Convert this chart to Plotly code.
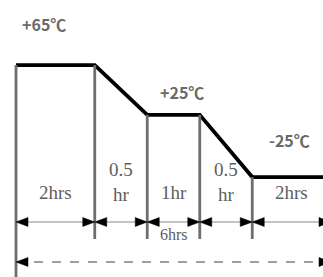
import numpy as np
import plotly.graph_objects as go

# ---- data ----
durations = [2, 0.5, 1, 0.5, 2]                      # hours per phase
duration_labels = ["2hrs", "0.5<br>hr", "1hr", "0.5<br>hr", "2hrs"]
phase_start_temp = [65, 65, 25, 25, -25]             # deg C
phase_end_temp = [65, 25, 25, -25, -25]
temp_levels = [65, 25, -25]
temp_labels = ["+65℃", "+25℃", "-25℃"]
total_label = "6hrs"

# ---- schematic layout (pixels) ----
W, H = 323, 277
X0, UNIT = 16, 52.5           # px of time origin, px per schematic unit
TA, TB = 145.96, 1.244        # px = TA - TB*T
widths = [max(1.0, 0.75 * d) for d in durations]   # schematic (not to scale)
bounds = np.concatenate([[0], np.cumsum(widths)])

def ux(px):
    return (px - X0) / UNIT

def ty(py):
    return (TA - py) / TB

xr = [ux(0), ux(W)]
yr = [ty(H), ty(0)]

fig = go.Figure()

shapes = []
GRAY = "#6e6e6e"
bound_temp = [phase_start_temp[0]] + phase_end_temp
for i in range(len(bounds) - 1):
    bottom = ty(H + 2) if i == 0 else ty(239)
    shapes.append(dict(type="line", xref="x", yref="y", x0=bounds[i], x1=bounds[i],
                       y0=bound_temp[i], y1=bottom, line=dict(color=GRAY, width=2.8)))

y_dim = ty(222)
shapes.append(dict(type="line", xref="x", yref="y", x0=bounds[0], x1=bounds[-1],
                   y0=y_dim, y1=y_dim, line=dict(color="#8a8a8a", width=1.2)))
y_tot = ty(262)
shapes.append(dict(type="line", xref="x", yref="y", x0=bounds[0], x1=bounds[-1],
                   y0=y_tot, y1=y_tot, line=dict(color="#808080", width=1.6, dash="dash")))

def head(xtip, y, direction, L=12, h=4.5):
    xb = xtip - direction * L / UNIT
    yu = y + h / TB
    yd = y - h / TB
    return dict(type="path", xref="x", yref="y",
                path=f"M {xtip} {y} L {xb} {yu} L {xb} {yd} Z",
                fillcolor="black", line=dict(color="black", width=0.5))

for i in range(len(bounds)):
    if i < len(bounds) - 1:
        shapes.append(head(bounds[i], y_dim, -1))
    if i > 0:
        shapes.append(head(bounds[i], y_dim, +1))
shapes.append(head(bounds[0], y_tot, -1))
shapes.append(head(bounds[-1], y_tot, +1))

px_list = [bounds[0]]
py_list = [phase_start_temp[0]]
for i in range(len(durations)):
    px_list.append(bounds[i + 1])
    py_list.append(phase_end_temp[i])
fig.add_trace(go.Scatter(x=px_list, y=py_list, mode="lines",
                         line=dict(color="black", width=3.8), hoverinfo="skip"))

annotations = []
TFONT = dict(family="Noto Sans CJK SC, Noto Sans", size=16, color="#6a6a6a")
temp_pos = [(44, 24), (182, 92), (289, 140)]
for lab, (ppx, ppy) in zip(temp_labels, temp_pos):
    annotations.append(dict(x=ux(ppx), y=ty(ppy), xref="x", yref="y", text="<b>" + lab + "</b>",
                            showarrow=False, font=TFONT, xanchor="center", yanchor="middle"))

DFONT = dict(family="Liberation Serif, Times New Roman, serif", size=19, color="#5e5e5e")
for i, lab in enumerate(duration_labels):
    cx = (bounds[i] + bounds[i + 1]) / 2
    cy = ty(182) if "<br>" in lab else ty(192)
    annotations.append(dict(x=cx, y=cy, xref="x", yref="y", text=lab, showarrow=False,
                            font=DFONT, xanchor="center", yanchor="middle"))
annotations.append(dict(x=(bounds[2] + bounds[3]) / 2, y=ty(234), xref="x", yref="y",
                        text=total_label, showarrow=False,
                        font=dict(family="Liberation Serif, serif", size=16, color="#5e5e5e"),
                        xanchor="center", yanchor="middle"))

fig.update_layout(width=W, height=H, autosize=False,
                  margin=dict(l=0, r=0, t=0, b=0),
                  paper_bgcolor="white", plot_bgcolor="white",
                  showlegend=False, shapes=shapes, annotations=annotations,
                  xaxis=dict(range=xr, visible=False, fixedrange=True),
                  yaxis=dict(range=yr, visible=False, fixedrange=True))
fig.write_html("out.html", config={"displayModeBar": False},
               post_script="document.body.style.margin='0';document.body.style.padding='0';document.body.style.overflow='hidden';")
